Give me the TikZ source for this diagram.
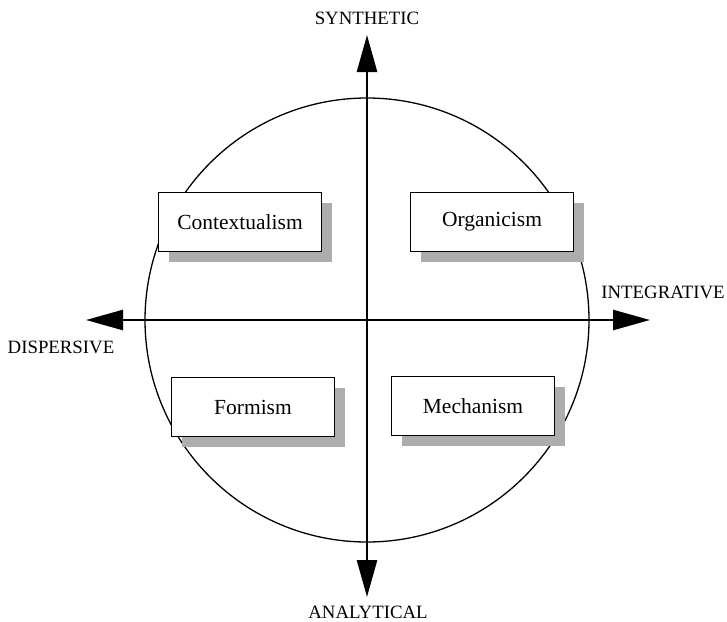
\documentclass[tikz,border=0pt]{standalone}
\usepackage{fontspec}
\setmainfont{Liberation Serif}
\usetikzlibrary{arrows.meta, shadows}

\begin{document}
\begin{tikzpicture}[
    x=1pt, y=-1pt,
    view/.style={
        draw, line width=1.7pt, fill=white, minimum width=163pt, minimum height=59pt,
        font=\fontsize{21.5}{25}\selectfont,
        drop shadow={shadow xshift=10pt, shadow yshift=-10pt, fill=black!32, opacity=1}
    },
    pole/.style={font=\fontsize{18.8}{22}\selectfont, inner sep=0pt},
    axisline/.style={{Triangle[length=37pt, width=20pt]}-{Triangle[length=37pt, width=20pt]}, line width=2.6pt}
]

% FRAME (727 x 621)
\useasboundingbox (0,0) rectangle (727,621);

% CIRCLE
\coordinate (centre) at (367,320);
\draw[line width=1.3pt] (centre) circle[radius=222pt];

% WORLD VIEWS
\node[view] (context) at (240,222) {Contextualism};
\node[view] (organic) at (492,222) {Organicism};
\node[view] (form) at (253,407) {Formism};
\node[view] (mech) at (473,406) {Mechanism};

% AXIS ENDS
\coordinate (top) at (367,35);
\coordinate (bottom) at (367,597);
\coordinate (left) at (86,320);
\coordinate (right) at (650,320);

% AXES
\draw[axisline] (bottom) -- (top);
\draw[axisline] (left) -- (right);

% POLE LABELS
\node[pole] (synth) at (367,18) {SYNTHETIC};
\node[pole] (anal) at (368,612) {ANALYTICAL};
\node[pole] (disp) at (61,347) {DISPERSIVE};
\node[pole] (integ) at (663,292) {INTEGRATIVE};

\end{tikzpicture}
\end{document}
